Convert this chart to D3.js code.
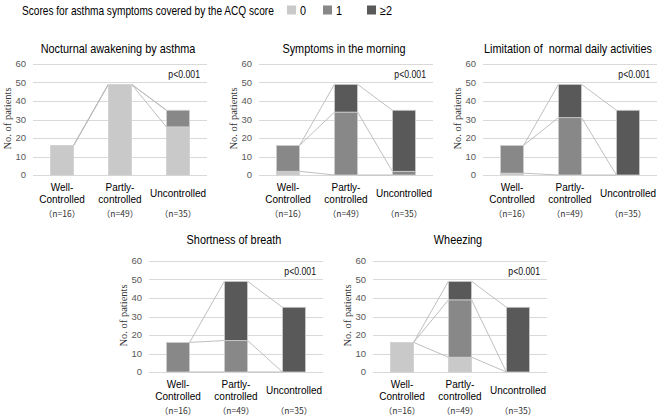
<!DOCTYPE html>
<html>
<head>
<meta charset="utf-8">
<script src="https://cdn.jsdelivr.net/npm/d3@7"></script>
<style>
  body { margin: 0; background: #fff; }
  svg { display: block; }
  .grid line { stroke: #d9d9d9; stroke-width: 1; }
  .tick-label { font-family: "Liberation Sans", Arial, sans-serif; font-size: 9.5px; fill: #595959; }
  .panel-title { font-family: "Liberation Sans", Arial, sans-serif; font-size: 12.5px; fill: #000; }
  .cat-label { font-family: "Liberation Sans", Arial, sans-serif; font-size: 11.5px; fill: #000; }
  .n-label { font-family: "Noto Sans CJK JP", sans-serif; font-size: 8.5px; fill: #333; }
  .y-title { font-family: "Liberation Serif", "Times New Roman", serif; font-size: 10.5px; fill: #333; }
  .p-label { font-family: "Liberation Sans", Arial, sans-serif; font-size: 10px; fill: #111; }
  .legend { font-family: "Liberation Sans", Arial, sans-serif; font-size: 12.5px; fill: #000; }
</style>
</head>
<body>
<svg id="chart" width="665" height="419"></svg>
<script>
// categories and series
const categories = ['Well-Controlled', 'Partly-controlled', 'Uncontrolled']
const catLines = [['Well-', 'Controlled'], ['Partly-', 'controlled'], ['Uncontrolled']]
const nLabels = ['（n=16）', '（n=49）', '（n=35）']
const scoreKeys = ['0', '1', '≥2']
const yTicks = [0, 10, 20, 30, 40, 50, 60]

// counts per category: [score 0, score 1, score >=2]
const nocturnal = [[16, 0, 0], [49, 0, 0], [26, 9, 0]]
const morning = [[2, 14, 0], [0, 34, 15], [0, 2, 33]]
const limitation = [[1, 15, 0], [0, 31, 18], [0, 0, 35]]
const shortness = [[0, 16, 0], [0, 17, 32], [0, 0, 35]]
const wheezing = [[16, 0, 0], [8, 31, 10], [0, 0, 35]]

const colors = ['#c9c9c9', '#888888', '#595959']

const panels = [
    { title: 'Nocturnal awakening by asthma', data: nocturnal, x0: 33, top: 64, titleY: -11.5 },
    { title: 'Symptoms in the morning', data: morning, x0: 259, top: 64, titleY: -11.5 },
    { title: 'Limitation of  normal daily activities', data: limitation, x0: 483, top: 64, titleY: -11.5 },
    { title: 'Shortness of breath', data: shortness, x0: 149, top: 261, titleY: -17.5 },
    { title: 'Wheezing', data: wheezing, x0: 373, top: 261, titleY: -17.5 }
]

const plotW = 174
const plotH = 111
const squeeze = 0.87 // the reference text is narrow

const svg = d3.select('#chart')

// text narrowed horizontally around its anchor
function narrowText (parent, cls, x, y, anchor, str, sx = squeeze) {
    return parent.append('text')
        .attr('class', cls)
        .attr('transform', `translate(${x},${y}) scale(${sx},1)`)
        .attr('text-anchor', anchor)
        .style('white-space', 'pre')
        .text(str)
}

function drawPanel (p) {
    const g = svg.append('g')
        .attr('transform', `translate(${p.x0},${p.top})`)

    const x = d3.scaleBand()
        .domain(categories)
        .range([0, plotW])
        .paddingInner(0.6)
        .paddingOuter(0.3)

    const y = d3.scaleLinear()
        .domain([0, 60])
        .range([plotH, 0])

    // gridlines
    g.append('g')
        .attr('class', 'grid')
        .selectAll('line')
        .data(yTicks)
        .join('line')
        .attr('x1', 0)
        .attr('x2', plotW)
        .attr('y1', d => Math.round(y(d)) + 0.5)
        .attr('y2', d => Math.round(y(d)) + 0.5)

    g.selectAll('.tick-label')
        .data(yTicks)
        .join('text')
        .attr('class', 'tick-label')
        .attr('x', -7)
        .attr('y', d => y(d))
        .attr('dy', '0.35em')
        .attr('text-anchor', 'end')
        .text(d => d)

    // stacked values
    const rows = p.data.map((vals, i) => {
        const row = { cat: categories[i] }
        scoreKeys.forEach((k, j) => { row[k] = vals[j] })
        return row
    })
    const stacked = d3.stack().keys(scoreKeys)(rows)

    // series lines between adjacent bars
    const bw = x.bandwidth()
    stacked.forEach(layer => {
        for (let i = 0; i < layer.length - 1; i++) {
            g.append('line')
                .attr('x1', x(categories[i]) + bw)
                .attr('y1', y(layer[i][1]))
                .attr('x2', x(categories[i + 1]))
                .attr('y2', y(layer[i + 1][1]))
                .attr('stroke', '#b8b8b8')
                .attr('stroke-width', 0.9)
        }
    })

    stacked.forEach((layer, j) => {
        g.append('g')
            .selectAll('rect')
            .data(layer.filter(d => d[1] > d[0]))
            .join('rect')
            .attr('x', d => x(d.data.cat))
            .attr('y', d => y(d[1]))
            .attr('width', bw)
            .attr('height', d => y(d[0]) - y(d[1]))
            .attr('fill', colors[j])
            .attr('stroke', '#d0d0d0')
            .attr('stroke-width', 0.8)
    })

    // title
    narrowText(g, 'panel-title', plotW / 2 - 2, p.titleY, 'middle', p.title)

    narrowText(g, 'p-label', plotW - 7, y(54) + 3, 'end', 'p<0.001')

    // y axis title
    g.append('text')
        .attr('class', 'y-title')
        .attr('transform', `translate(-22,${plotH / 2 - 1}) rotate(-90)`)
        .attr('text-anchor', 'middle')
        .text('No. of patients')

    // category labels
    categories.forEach((c, i) => {
        const cx = x(c) + bw / 2
        const lines = catLines[i]
        if (lines.length === 2) {
            narrowText(g, 'cat-label', cx, plotH + 16, 'middle', lines[0])
            narrowText(g, 'cat-label', cx, plotH + 28, 'middle', lines[1])
        } else {
            narrowText(g, 'cat-label', cx, plotH + 22, 'middle', lines[0])
        }
        g.append('text')
            .attr('class', 'n-label')
            .attr('x', cx)
            .attr('y', plotH + 41.5)
            .attr('text-anchor', 'middle')
            .text(nLabels[i])
    })
}

panels.forEach(drawPanel)

// legend
narrowText(svg, 'legend', 22, 15, 'start',
    'Scores for asthma symptoms covered by the ACQ score', 0.81)
const legendX = [287, 323, 367]
scoreKeys.forEach((k, j) => {
    svg.append('rect')
        .attr('x', legendX[j])
        .attr('y', 5.5)
        .attr('width', 9)
        .attr('height', 9)
        .attr('fill', colors[j])
    narrowText(svg, 'legend', legendX[j] + 13, 15, 'start', k)
})
</script>
</body>
</html>
